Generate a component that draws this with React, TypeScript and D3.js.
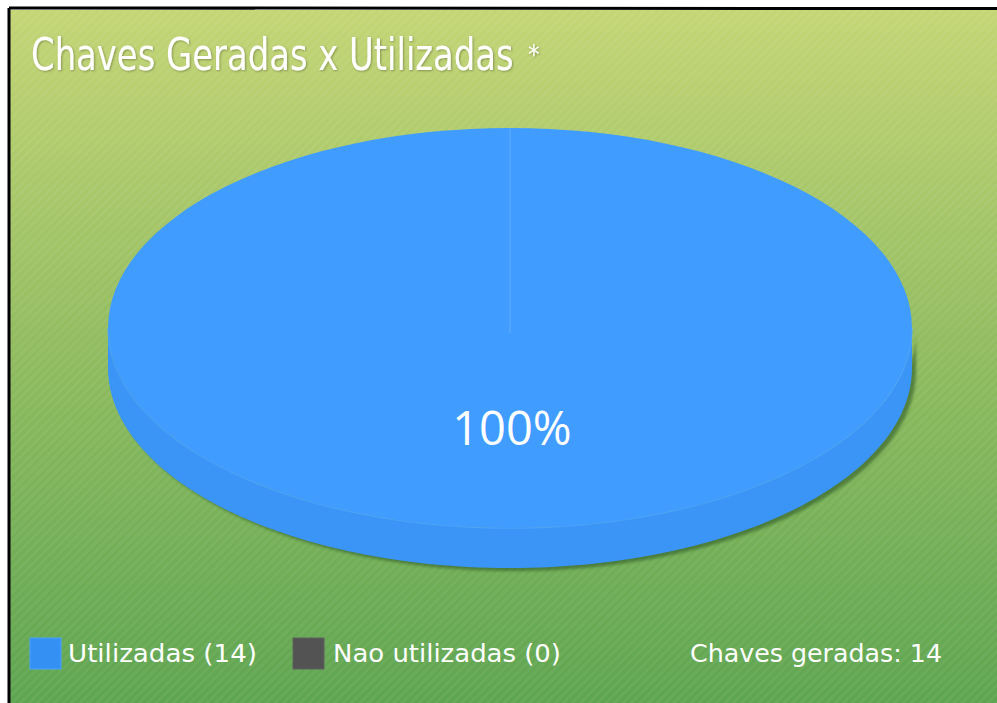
import React from "react";
import * as d3 from "d3";

const categories = ["Utilizadas", "Nao utilizadas"];
const values = [14, 0];
const legendColors = ["#3590f3", "#535353"];
const titleText = "Chaves Geradas x Utilizadas";
const titleMark = "*";
const totalLabel = "Chaves geradas: 14";

const W = 997;
const H = 703;

export default function App() {
  const cx = 510;
  const cy = 328;
  const rx = 402;
  const ry = 200;
  const depth = 40;
  const total = d3.sum(values);
  const pie = d3.pie<number>().sort(null).startAngle(0).endAngle(2 * Math.PI);
  const arcs = pie(values);
  const arcGen = d3.arc<any>().innerRadius(0).outerRadius(rx);
  const sy = ry / rx;

  const side = (() => {
    const p = d3.path();
    const n = 120;
    const pts: [number, number][] = [];
    for (let i = 0; i <= n; i++) {
      const t = (i / n) * Math.PI;
      pts.push([cx + rx * Math.cos(t), cy + ry * Math.sin(t)]);
    }
    p.moveTo(pts[0][0], pts[0][1]);
    pts.forEach((q) => p.lineTo(q[0], q[1]));
    for (let i = n; i >= 0; i--) p.lineTo(pts[i][0], pts[i][1] + depth);
    p.closePath();
    return p.toString();
  })();

  const frontEdge = (() => {
    const p = d3.path();
    const n = 120;
    for (let i = 0; i <= n; i++) {
      const t = (i / n) * Math.PI;
      const x = cx + rx * Math.cos(t);
      const y = cy + ry * Math.sin(t);
      if (i === 0) p.moveTo(x, y);
      else p.lineTo(x, y);
    }
    return p.toString();
  })();

  const legendX = [30, 293];
  const legendTextX = [68, 333];
  const legendWidths = [189, 228];
  const font = "'DejaVu Sans Condensed', 'Liberation Sans Narrow', 'Roboto', sans-serif";

  return (
    <svg
      width={W}
      height={H}
      style={{ position: "absolute", left: 0, top: 0, display: "block" }}
    >
      <defs>
        <linearGradient id="bg" x1="0" y1="0" x2="0" y2="1">
          <stop offset="0%" stopColor="#c4d575" />
          <stop offset="50%" stopColor="#8fbb5f" />
          <stop offset="100%" stopColor="#5ca450" />
        </linearGradient>
        <pattern
          id="stripes"
          width="6"
          height="6"
          patternUnits="userSpaceOnUse"
          patternTransform="rotate(45)"
        >
          <rect x="0" y="0" width="3" height="6" fill="#ffffff" opacity="0.05" />
        </pattern>
        <filter id="shadow" x="-10%" y="-10%" width="120%" height="130%">
          <feGaussianBlur stdDeviation="1.5" />
        </filter>
        <filter id="tshadow" x="-5%" y="-20%" width="110%" height="150%">
          <feDropShadow dx="1" dy="1" stdDeviation="1" floodColor="#000" floodOpacity="0.3" />
        </filter>
      </defs>
      <rect x={0} y={0} width={W} height={H} fill="#ffffff" />
      <rect x={10} y={10} width={W} height={H} fill="url(#bg)" />
      <rect x={10} y={10} width={W} height={H} fill="url(#stripes)" />
      <line x1={9} y1={8} x2={W} y2={8.5} stroke="#000" strokeWidth={3} />
      <line x1={9} y1={8} x2={9} y2={H} stroke="#000" strokeWidth={3} />

      <g filter="url(#tshadow)">
        <text
          transform="translate(31,70) scale(0.855,1)"
          fill="#ffffff"
          fontFamily={font}
          fontSize={44}
        >
          {titleText}
        </text>
        <text x={528} y={64} fill="#ffffff" fontFamily={font} fontSize={26}>
          {titleMark}
        </text>
      </g>

      <path
        d={side}
        transform="translate(4,3)"
        fill="#2f5a25"
        opacity={0.6}
        filter="url(#shadow)"
      />
      <path d={side} fill="#3a95f6" />
      <path d={frontEdge} fill="none" stroke="#56adff" strokeWidth={1.5} opacity={0.6} />
      <g transform={`translate(${cx},${cy}) scale(1,${sy})`}>
        {arcs.map((a, i) =>
          a.value > 0 ? <path key={i} d={arcGen(a) || ""} fill="#409cff" /> : null
        )}
      </g>
      {arcs
        .filter((a) => a.value > 0)
        .map((a, i) => (
          <line
            key={i}
            x1={cx}
            y1={cy + 5}
            x2={cx + rx * Math.sin(a.startAngle)}
            y2={cy - ry * Math.cos(a.startAngle)}
            stroke="#ffffff"
            strokeOpacity={0.12}
            strokeWidth={1.5}
          />
        ))}
      {arcs
        .filter((a) => a.value > 0)
        .map((a, i) => (
          <text
            key={i}
            x={cx + 2}
            y={445}
            textAnchor="middle"
            fill="#ffffff"
            fontFamily="'Open Sans', 'Noto Sans', sans-serif"
            fontSize={47}
          >
            {`${Math.round((a.value / total) * 100)}%`}
          </text>
        ))}

      {categories.map((c, i) => (
        <g key={c}>
          <rect
            x={legendX[i]}
            y={638}
            width={31}
            height={31}
            fill={legendColors[i]}
            stroke={i === 0 ? "#4aa2ff" : "#606060"}
            strokeWidth={1}
          />
          <text
            x={legendTextX[i]}
            y={662}
            fill="#ffffff"
            fontFamily={font}
            fontSize={25}
            textLength={legendWidths[i]}
            lengthAdjust="spacingAndGlyphs"
          >
            {`${c} (${values[i]})`}
          </text>
        </g>
      ))}
      <text
        x={690}
        y={662}
        fill="#ffffff"
        fontFamily={font}
        fontSize={25}
        textLength={252}
        lengthAdjust="spacingAndGlyphs"
      >
        {totalLabel}
      </text>
    </svg>
  );
}
